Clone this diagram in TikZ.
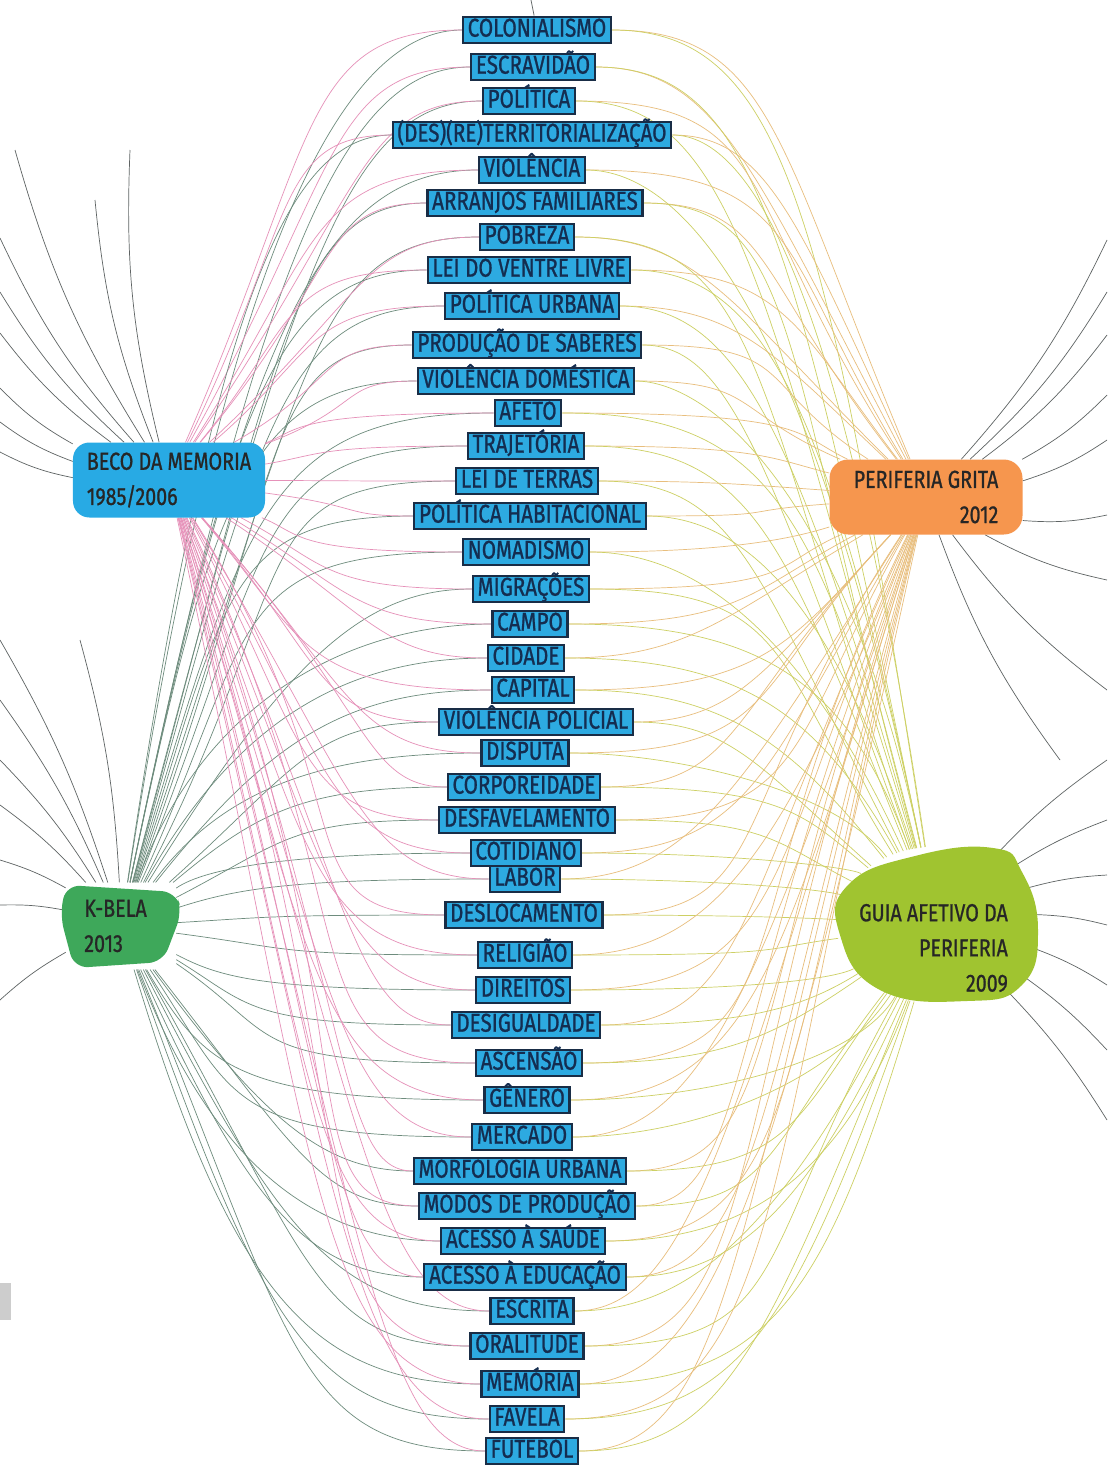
\documentclass[tikz,border=0pt]{standalone}
\usepackage{fontspec}
\newfontfamily\handfont[FakeStretch=0.8,FakeBold=0.9]{Fira Sans}
\usetikzlibrary{calc,shapes.geometric}
\pgfdeclarelayer{back}
\pgfdeclarelayer{bg}
\pgfsetlayers{back,bg,main}
\definecolor{termblue}{RGB}{45,170,225}
\definecolor{termedge}{RGB}{25,45,70}
\definecolor{termtext}{RGB}{20,45,80}
\definecolor{becoblue}{RGB}{40,170,228}
\definecolor{kbgreen}{RGB}{62,168,90}
\definecolor{pgorange}{RGB}{246,150,78}
\definecolor{gaygreen}{RGB}{160,196,48}
\definecolor{linkpink}{RGB}{230,145,185}
\definecolor{linkteal}{RGB}{110,140,125}
\definecolor{linkbeige}{RGB}{232,190,125}
\definecolor{linkyellow}{RGB}{205,208,100}
\definecolor{edgegray}{RGB}{95,100,100}
\definecolor{sidegray}{RGB}{205,205,205}
\begin{document}
\begin{tikzpicture}[x=0.03cm,y=-0.03cm,
  term/.style={fill=termblue,draw=termedge,line width=1.8pt,inner xsep=4pt,inner ysep=0pt,
    text height=0.5cm,text depth=0.1cm,minimum height=0.8cm,
    font=\handfont\fontsize{22}{24}\selectfont,text=termtext},
  projtext/.style={font=\handfont\fontsize{21}{30}\selectfont,text=black!85},
  link/.style={line width=0.6pt},
  edgeline/.style={line width=0.6pt,edgegray}
]
\useasboundingbox (0,0) rectangle (1107,1481);
\begin{pgfonlayer}{back}
\fill[white] (0,0) rectangle (1107,1481);
\fill[sidegray] (0,1283) rectangle (11,1320);
\end{pgfonlayer}

% ---- central terms ----
\foreach \i/\x/\y/\t in {
 1/537/30/{COLONIALISMO},
 2/533/67/{ESCRAVIDÃO},
 3/529/101/{POLÍTICA},
 4/532/135/{(DES)(RE)TERRITORIALIZAÇÃO},
 5/532/170/{VIOLÊNCIA},
 6/535/203/{ARRANJOS FAMILIARES},
 7/527/237/{POBREZA},
 8/529/270/{LEI DO VENTRE LIVRE},
 9/532/306/{POLÍTICA URBANA},
 10/527/345/{PRODUÇÃO DE SABERES},
 11/526/381/{VIOLÊNCIA DOMÉSTICA},
 12/528/413/{AFETO},
 13/526/446/{TRAJETÓRIA},
 14/527/481/{LEI DE TERRAS},
 15/530/516/{POLÍTICA HABITACIONAL},
 16/526/552/{NOMADISMO},
 17/531/589/{MIGRAÇÕES},
 18/530/624/{CAMPO},
 19/526/658/{CIDADE},
 20/533/690/{CAPITAL},
 21/536/722/{VIOLÊNCIA POLICIAL},
 22/525/753/{DISPUTA},
 23/524/787/{CORPOREIDADE},
 24/527/820/{DESFAVELAMENTO},
 25/526/853/{COTIDIANO},
 26/525/879/{LABOR},
 27/524/915/{DESLOCAMENTO},
 28/525/955/{RELIGIÃO},
 29/523/990/{DIREITOS},
 30/526/1025/{DESIGUALDADE},
 31/529/1063/{ASCENSÃO},
 32/527/1100/{GÊNERO},
 33/522/1137/{MERCADO},
 34/520/1171/{MORFOLOGIA URBANA},
 35/527/1206/{MODOS DE PRODUÇÃO},
 36/523/1241/{ACESSO À SAÚDE},
 37/525/1277/{ACESSO À EDUCAÇÃO},
 38/532/1311/{ESCRITA},
 39/527/1346/{ORALITUDE},
 40/530/1384/{MEMÓRIA},
 41/527/1419/{FAVELA},
 42/532/1451/{FUTEBOL}}
 { \node[term] (t\i) at (\x,\y) {\t}; }

% ---- project nodes ----
\node[fill=becoblue,rounded corners=14pt,minimum width=5.76cm,minimum height=2.25cm,
      align=left,projtext] (beco) at (169,480) {BECO DA MEMORIA\\1985/2006};

\fill[kbgreen,rounded corners=12pt] (66,885) -- (176,892) -- (182,912) -- (163,962) -- (74,968) -- (60,915) -- cycle;
\node[projtext,align=left,minimum width=3.3cm,minimum height=2.6cm,text width=2.2cm,inner sep=0pt] (kbela) at (121,926) {K-BELA\\2013};

\node[fill=pgorange,rounded corners=16pt,minimum width=5.79cm,minimum height=2.25cm,
      align=right,projtext] (perif) at (926,497) {PERIFERIA GRITA\\2012};

\fill[gaygreen] plot[smooth cycle,tension=0.8] coordinates {(993,848) (1022,872) (1038,930) (1022,985) (967,1001) (880,990) (840,935) (848,885) (915,856)};
\node[ellipse,minimum width=6.0cm,minimum height=4.7cm,inner sep=0pt] (guia) at (937,925) {};
\node[projtext,align=right,anchor=east] (guiatext) at (1012,948) {GUIA AFETIVO DA\\PERIFERIA\\2009};

% ---- free ends ----
\coordinate (top) at (531,0);
\foreach \n/\x/\y in {b1/15/150, b2/0/238, b3/0/292, b4/0/333, b5/0/388, b6/0/422, b7/0/452, b8/95/200, b9/130/150}
  { \coordinate (\n) at (\x,\y); }
\foreach \n/\x/\y in {k1/0/640, k2/0/700, k3/0/760, k4/0/805, k5/0/860, k6/0/905, k7/0/1000, k8/80/640}
  { \coordinate (\n) at (\x,\y); }
\foreach \n/\x/\y in {p1/1107/240, p2/1107/292, p3/1107/335, p4/1107/395, p5/1107/440, p6/1107/515, p7/1107/580, p8/1107/690, p9/1060/760}
  { \coordinate (\n) at (\x,\y); }
\foreach \n/\x/\y in {g1/1107/760, g2/1107/820, g3/1107/875, g4/1107/925, g5/1107/985, g6/1107/1050, g7/1107/1120}
  { \coordinate (\n) at (\x,\y); }

\begin{pgfonlayer}{bg}
  \draw[edgeline] (top) -- (t1);
  \foreach \n in {b1,b2,b3,b4,b5,b6,b7,b8,b9} { \draw[edgeline] (beco) to[bend left=8] (\n); }
  \foreach \n in {k1,k2,k3,k4,k5,k6,k7,k8} { \draw[edgeline] (kbela) to[bend right=6] (\n); }
  \foreach \n in {p1,p2,p3,p4,p5,p6,p7,p8,p9} { \draw[edgeline] (perif) to[bend right=8] (\n); }
  \foreach \n in {g1,g2,g3,g4,g5,g6,g7} { \draw[edgeline] (guia) to[bend left=6] (\n); }

  \foreach \i in {1,...,42} {
    \pgfmathsetmacro\fa{0.45+mod(\i*37,50)/100}
    \pgfmathsetmacro\fb{0.35+mod(\i*53,50)/100}
    \pgfmathsetmacro\fc{0.45+mod(\i*29,50)/100}
    \pgfmathsetmacro\fd{0.35+mod(\i*41,50)/100}
    \pgfmathsetmacro\sa{125+mod(\i*23,90)}
    \pgfmathsetmacro\sb{80+mod(\i*31,110)}
    \draw[link,linkteal] (kbela) .. controls ($(kbela)!0.8!(kbela |- t\i.west)+(\sb,0)$) and ($(t\i.west)!\fb!(kbela.east |- t\i.west)$) .. (t\i.west);
    \draw[link,linkpink] (beco) .. controls ($(beco)!0.75!(beco |- t\i.west)+(\sa,0)$) and ($(t\i.west)!\fa!(beco.east |- t\i.west)$) .. (t\i.west);
    \draw[link,linkbeige] (perif) .. controls ($(perif)!0.75!(perif |- t\i.east)+(-\sa,0)$) and ($(t\i.east)!\fc!(perif.west |- t\i.east)$) .. (t\i.east);
    \draw[link,linkyellow] (guia) .. controls ($(guia)!0.8!(guia |- t\i.east)+(-\sb,0)$) and ($(t\i.east)!\fd!(guia.west |- t\i.east)$) .. (t\i.east);
  }
\end{pgfonlayer}
\end{tikzpicture}
\end{document}
